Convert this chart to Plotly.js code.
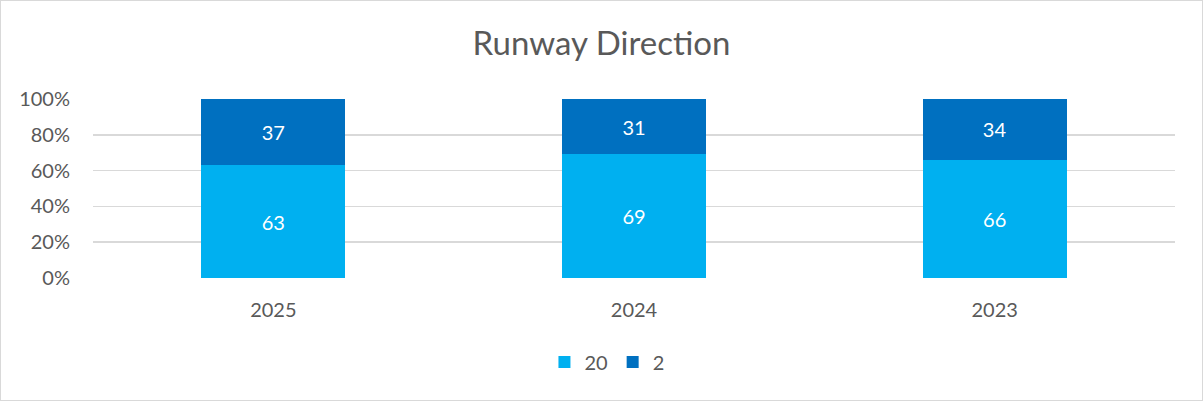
<!DOCTYPE html>
<html>
<head>
<meta charset="utf-8">
<script src="https://cdn.plot.ly/plotly-3.0.1.min.js"></script>
<style>
  body { margin: 0; background: #fff; }
  #graf { width: 1203px; height: 401px; box-sizing: border-box; border: 1px solid #d9d9d9; }
</style>
</head>
<body>
<div id="graf"></div>
<script>
// dades del grafic
var anys = ['2025', '2024', '2023'];
var pista20 = [63, 69, 66];
var pista2 = [37, 31, 34];
var etiquetesY = ['0%', '20%', '40%', '60%', '80%', '100%'];
var valorsY = [0, 20, 40, 60, 80, 100];

var font = 'Lato, "Open Sans", sans-serif';

var serie20 = {
    x: anys, y: pista20, type: 'bar', name: '20',
    marker: {color: '#00b0f0'},
    text: pista20.map(String), textposition: 'inside', insidetextanchor: 'middle',
    textfont: {color: '#ffffff', size: 20, family: font}, constraintext: 'none',
    hoverinfo: 'none'
};
var serie2 = {
    x: anys, y: pista2, type: 'bar', name: '2',
    marker: {color: '#0070c0'},
    text: pista2.map(String), textposition: 'inside', insidetextanchor: 'middle',
    textfont: {color: '#ffffff', size: 20, family: font}, constraintext: 'none',
    hoverinfo: 'none'
};

var layout = {
    width: 1201, height: 399,
    margin: {l: 92, r: 27, t: 98, b: 122, autoexpand: false},
    paper_bgcolor: '#ffffff', plot_bgcolor: '#ffffff',
    barmode: 'stack', bargap: 0.6,
    font: {family: font, color: '#595959', size: 20},
    title: {text: 'Runway Direction', x: 0.5, xanchor: 'center', y: 0.893, yanchor: 'middle',
            font: {size: 33, color: '#595959', family: font}},
    xaxis: {type: 'category', showgrid: false, zeroline: false, showline: false, ticks: '',
            ticklabelstandoff: 18, tickfont: {size: 20, color: '#595959'}},
    yaxis: {range: [0, 100], tickvals: valorsY, ticktext: etiquetesY,
            showgrid: true, gridcolor: '#d9d9d9', gridwidth: 1.5, zeroline: false,
            showline: false, ticks: '', ticklabelstandoff: 22,
            tickfont: {size: 20, color: '#595959'}},
    legend: {orientation: 'h', x: 0.475, xanchor: 'center', yref: 'container', y: 0.095, yanchor: 'middle',
             font: {size: 20, color: '#595959'}, traceorder: 'normal', itemwidth: 30},
    showlegend: true
};

Plotly.newPlot('graf', [serie20, serie2], layout, {displayModeBar: false, staticPlot: true});
</script>
</body>
</html>
